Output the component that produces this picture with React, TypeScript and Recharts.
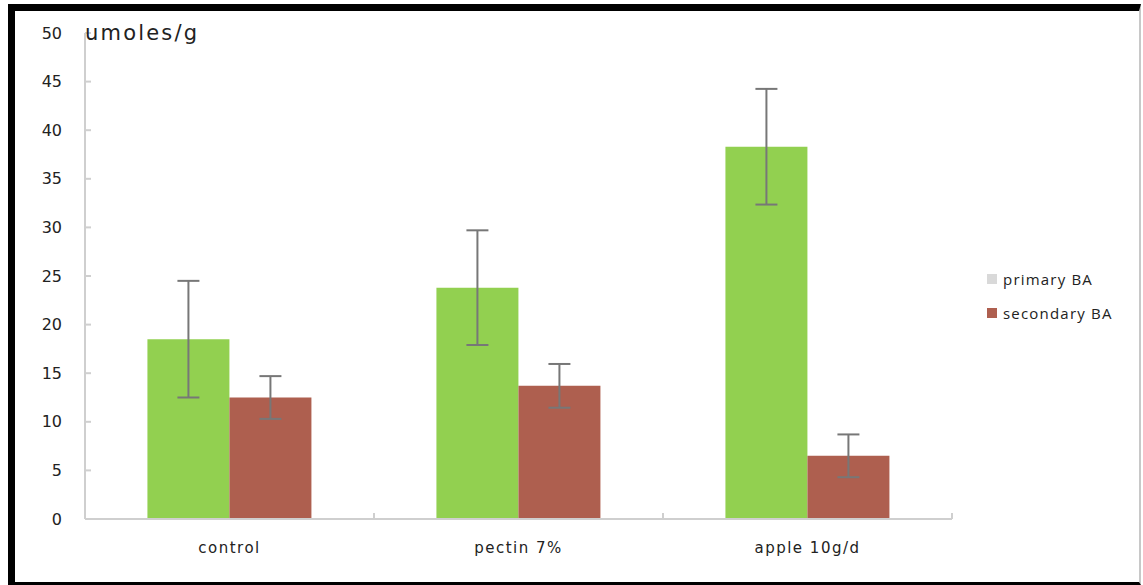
import React from 'react';
import { BarChart, Bar, XAxis, YAxis, ErrorBar } from 'recharts';

const categories = ['control', 'pectin 7%', 'apple 10g/d'];
const primaryBA = [18.5, 23.8, 38.3];
const primaryErr = [6.0, 5.9, 5.95];
const secondaryBA = [12.5, 13.7, 6.5];
const secondaryErr = [2.2, 2.25, 2.2];
const yTicks = [0, 5, 10, 15, 20, 25, 30, 35, 40, 45, 50];
const seriesNames = ['primary BA', 'secondary BA'];

const data = categories.map((c, i) => ({
  name: c,
  primary: primaryBA[i],
  primaryErr: primaryErr[i],
  secondary: secondaryBA[i],
  secondaryErr: secondaryErr[i],
}));

const GREEN = '#92d050';
const BROWN = '#ae5f4f';
const AXIS = '#cfcfcf';

const CatTick = (props: any) => {
  const { x, y, payload } = props;
  const bx = payload.coordinate + payload.offset;
  return (
    <g>
      <line x1={bx} x2={bx} y1={y} y2={y - 6} stroke={AXIS} strokeWidth={2} />
      <text
        x={x}
        y={y + 34}
        textAnchor="middle"
        fill="#222"
        fontSize={15}
        letterSpacing={1.5}
        fontFamily="DejaVu Sans"
      >
        {payload.value}
      </text>
    </g>
  );
};

export default function App() {
  return (
    <div style={{ position: 'absolute', left: 0, top: 0, width: 1143, height: 585, background: '#fff', overflow: 'hidden' }}>
      <div
        style={{
          position: 'absolute',
          left: 8,
          top: 4,
          width: 1133,
          height: 581,
          boxSizing: 'border-box',
          borderLeft: '7px solid #000',
          borderTop: '7px solid #000',
          borderBottom: '3px solid #000',
          borderRight: '2px solid #c8c8c8',
        }}
      />
      <div style={{ position: 'absolute', left: 0, top: 0 }}>
        <BarChart
          width={1143}
          height={585}
          data={data}
          margin={{ top: 33, right: 191, left: 25, bottom: 26 }}
          barCategoryGap="21.6%"
          barGap={0}
        >
          <XAxis
            dataKey="name"
            height={40}
            stroke={AXIS}
            strokeWidth={2}
            tickLine={false}
            tickSize={0}
            tickMargin={0}
            tick={<CatTick />}
          />
          <YAxis
            width={60}
            domain={[0, 50]}
            ticks={yTicks}
            interval={0}
            stroke={AXIS}
            strokeWidth={2}
            tickSize={-6}
            tickMargin={29}
            tick={{ fill: '#222', fontSize: 16, fontFamily: 'DejaVu Sans' }}
          />
          <Bar dataKey="primary" fill={GREEN} isAnimationActive={false} name={seriesNames[0]}>
            <ErrorBar dataKey="primaryErr" width={11} stroke="#777" strokeWidth={2} />
          </Bar>
          <Bar dataKey="secondary" fill={BROWN} isAnimationActive={false} name={seriesNames[1]}>
            <ErrorBar dataKey="secondaryErr" width={11} stroke="#777" strokeWidth={2} />
          </Bar>
        </BarChart>
      </div>
      <div
        style={{
          position: 'absolute',
          left: 85,
          top: 20,
          fontFamily: 'DejaVu Sans',
          fontSize: 21,
          lineHeight: '26px',
          letterSpacing: 2.2,
          color: '#222',
        }}
      >
        umoles/g
      </div>
      <div style={{ position: 'absolute', left: 987, top: 262, fontFamily: 'Open Sans', fontSize: 15, letterSpacing: 1.2, color: '#222' }}>
        {seriesNames.map((n, i) => (
          <div key={n} style={{ display: 'flex', alignItems: 'center', height: 34 }}>
            <span style={{ display: 'inline-block', width: 10, height: 10, background: i === 0 ? '#d9d9d9' : BROWN, marginRight: 6 }} />
            <span>{n}</span>
          </div>
        ))}
      </div>
    </div>
  );
}
